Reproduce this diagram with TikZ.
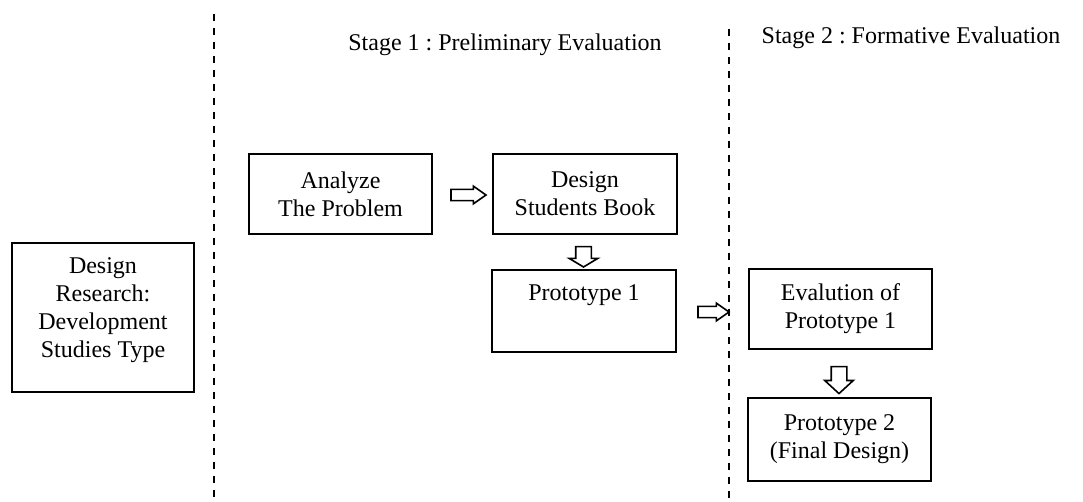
\documentclass[tikz,border=0pt]{standalone}
\usepackage{fontspec}
\setmainfont{Liberation Serif}
\usepackage{tikz}
\usetikzlibrary{calc,shapes.arrows}
\frenchspacing

\begin{document}
\begin{tikzpicture}[x=0.5pt,y=-0.5pt,
    every node/.style={font=\fontsize{12}{14}\selectfont},
    box/.style={draw,line width=0.9pt,align=center,inner sep=0pt,
      minimum width=91.5pt,minimum height=40pt},
    rarrow/.style={single arrow,draw,line width=0.8pt,inner sep=2.4pt,
      single arrow head extend=1.6pt,single arrow tip angle=70},
    darrow/.style={rarrow,shape border rotate=270,inner sep=3.5pt,
      single arrow head extend=3.25pt,single arrow tip angle=118},
    sepline/.style={line width=1pt,dash pattern=on 3.5pt off 3.5pt}]
  \useasboundingbox (0,0) rectangle (1083,502);
  \draw[sepline] (214,14) -- (214,502);
  \draw[sepline] (729,29) -- (729,502);
  \node (stage1) at (505,45) {Stage 1 : Preliminary Evaluation};
  \node (stage2) at (911,38) {Stage 2 : Formative Evaluation};
  \node[box,minimum width=91pt,minimum height=74.5pt] (research) at (103,317.5)
    {Design\\Research:\\Development\\Studies Type\\[-4pt]};
  \node[box] (analyze) at (340.5,194) {Analyze\\The Problem};
  \node[box,minimum width=92pt] (design) at (585,194) {Design\\Students Book};
  \node[box,minimum width=92pt,minimum height=41pt] (proto1) at (584,311)
    {Prototype 1\\\strut};
  \node[box] (eval) at (840.5,309) {Evalution of\\Prototype 1};
  \node[box,minimum height=41.5pt] (proto2) at (839.5,439.5)
    {Prototype 2\\(Final Design)};
  \node[rarrow,minimum height=17.5pt] (a1) at ($(analyze.east)!0.5!(design.west)+(2,1)$) {};
  \node[darrow,minimum height=9pt] (a2) at ($(design.south)!0.5!(proto1.north)+(-1,2.5)$) {};
  \node[rarrow,minimum height=15.5pt] (a3) at ($(proto1.east)!0.5!(eval.west)+(-3,2)$) {};
  \node[darrow,minimum height=13.5pt,single arrow tip angle=95] (a4)
    at ($(eval.south)!0.5!(proto2.north)+(-1,3)$) {};
\end{tikzpicture}
\end{document}
